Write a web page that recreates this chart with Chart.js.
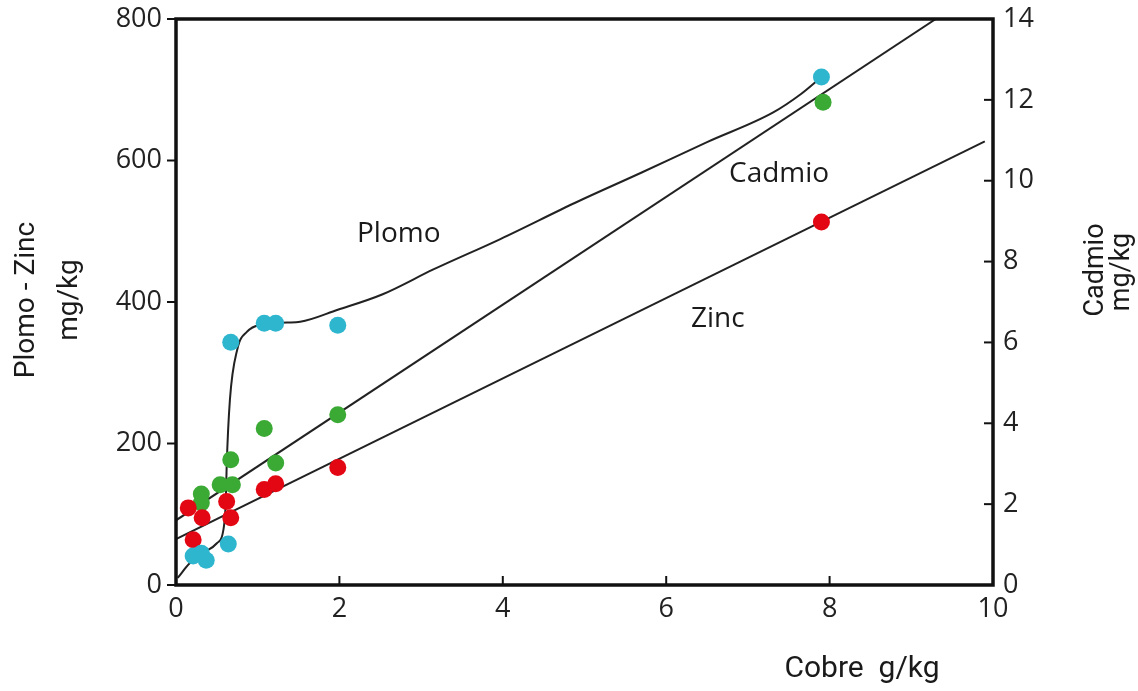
<!DOCTYPE html>
<html>
<head>
<meta charset="utf-8">
<script src="https://cdn.jsdelivr.net/npm/chart.js@4"></script>
<style>
  html, body { margin: 0; padding: 0; background: #fff; }
  #wrap { width: 1138px; height: 691px; }
</style>
</head>
<body>
<div id="wrap"><canvas id="myChart"></canvas></div>
<script>
  // measured points (Cobre g/kg on x)
  const plomoX = [0.21, 0.31, 0.37, 0.64, 0.67, 1.08, 1.22, 1.98, 7.9];
  const plomoY = [41, 45, 35, 58, 343, 370, 370, 367, 718];
  const zincX = [0.15, 0.21, 0.32, 0.62, 0.67, 1.08, 1.22, 1.98, 7.9];
  const zincY = [109, 64, 95, 118, 95, 135, 143, 166, 513];
  const cadmioX = [0.31, 0.31, 0.54, 0.69, 0.67, 1.08, 1.22, 1.98, 7.92];
  const cadmioY = [2.25, 2.03, 2.48, 2.48, 3.10, 3.87, 3.02, 4.21, 11.94];

  // hand drawn trend curves
  const plomoCurveX = [0.02, 0.17, 0.33, 0.5, 0.58, 0.61, 0.62, 0.66, 0.75, 0.87, 1.03, 1.36, 1.52, 1.98, 2.53, 3.15, 3.97, 4.9, 5.7, 6.5, 7.31, 7.65, 7.88];
  const plomoCurveY = [10, 31, 45, 59, 78, 120, 167, 262, 333, 358, 368, 371, 372, 389, 411, 446, 489, 541, 583, 626, 668, 694, 716];
  const zincLineX = [0, 9.9];
  const zincLineY = [65, 627];
  const cadmioLineX = [0, 9.3];
  const cadmioLineY = [1.6, 14];

  const xTicks = [0, 2, 4, 6, 8, 10];
  const leftTicks = [0, 200, 400, 600, 800];
  const rightTicks = [0, 2, 4, 6, 8, 10, 12, 14];

  const pts = (xs, ys) => xs.map((x, i) => ({x: x, y: ys[i]}));

  const cyan = 'rgb(46,182,207)';
  const green = 'rgb(58,170,53)';
  const red = 'rgb(227,6,19)';

  const curve = {showLine: true, borderColor: '#222', borderWidth: 2, pointRadius: 0, fill: false, order: 2};
  const dots = {pointRadius: 8.5, borderWidth: 0, order: 1};

  const annotate = {
    id: 'annotate',
    afterDraw(chart) {
      const c = chart.ctx;
      const a = chart.chartArea;
      const sx = chart.scales.x, sy = chart.scales.y, s2 = chart.scales.y2;
      c.save();
      // frame
      c.strokeStyle = '#111';
      c.lineWidth = 3.5;
      c.strokeRect(a.left, a.top, a.right - a.left, a.bottom - a.top);
      c.lineWidth = 2;
      // left ticks outward
      leftTicks.forEach(v => {
        const p = sy.getPixelForValue(v);
        c.beginPath(); c.moveTo(a.left - 9, p); c.lineTo(a.left, p); c.stroke();
      });
      // right ticks inward
      rightTicks.forEach(v => {
        const p = s2.getPixelForValue(v);
        c.beginPath(); c.moveTo(a.right - 9, p); c.lineTo(a.right, p); c.stroke();
      });
      // bottom ticks inward
      xTicks.forEach(v => {
        const p = sx.getPixelForValue(v);
        c.beginPath(); c.moveTo(p, a.bottom); c.lineTo(p, a.bottom - 9); c.stroke();
      });

      c.fillStyle = '#1a1a1a';
      c.textBaseline = 'middle';
      c.textAlign = 'left';
      c.font = '28px "Open Sans", sans-serif';
      c.fillText('Plomo', 357, 234);
      c.fillText('Cadmio', 729, 174);
      c.fillText('Zinc', 691, 319);

      c.font = '30px "Roboto", sans-serif';
      c.textAlign = 'center';
      c.fillText('Cobre  g/kg', 862, 669);

      const vtext = (t, x, y) => {
        c.save();
        c.translate(x, y);
        c.rotate(-Math.PI / 2);
        c.fillText(t, 0, 0);
        c.restore();
      };
      c.font = '28px "Roboto", sans-serif';
      vtext('Plomo - Zinc', 27, 300);
      vtext('mg/kg', 70, 300);
      c.font = '27px "Roboto", sans-serif';
      vtext('Cadmio', 1096, 270);
      vtext('mg/kg', 1122, 272);
      c.restore();
    }
  };

  const tickFont = {family: '"Open Sans", sans-serif', size: 27};
  // keep the plot box where the original has it
  const noPad = s => { s.paddingTop = 0; s.paddingBottom = 0; s.paddingLeft = 0; s.paddingRight = 0; };

  new Chart(document.getElementById('myChart'), {
    type: 'scatter',
    data: {
      datasets: [
        Object.assign({label: 'Plomo curva', data: pts(plomoCurveX, plomoCurveY), yAxisID: 'y', cubicInterpolationMode: 'monotone'}, curve),
        Object.assign({label: 'Zinc recta', data: pts(zincLineX, zincLineY), yAxisID: 'y'}, curve),
        Object.assign({label: 'Cadmio recta', data: pts(cadmioLineX, cadmioLineY), yAxisID: 'y2'}, curve),
        Object.assign({label: 'Plomo', data: pts(plomoX, plomoY), yAxisID: 'y', backgroundColor: cyan}, dots),
        Object.assign({label: 'Zinc', data: pts(zincX, zincY), yAxisID: 'y', backgroundColor: red}, dots),
        Object.assign({label: 'Cadmio', data: pts(cadmioX, cadmioY), yAxisID: 'y2', backgroundColor: green}, dots)
      ]
    },
    options: {
      responsive: true,
      maintainAspectRatio: false,
      animation: false,
      layout: {padding: {top: 19, left: 0, right: 0, bottom: 0}},
      plugins: {legend: {display: false}, tooltip: {enabled: false}},
      scales: {
        x: {
          type: 'linear', min: 0, max: 10,
          afterFit: s => { s.height = 106; noPad(s); },
          afterBuildTicks: s => { s.ticks = xTicks.map(v => ({value: v})); },
          grid: {display: false, drawTicks: false},
          border: {display: false},
          ticks: {color: '#222', font: tickFont, padding: 8, maxRotation: 0}
        },
        y: {
          type: 'linear', position: 'left', min: 0, max: 800,
          afterFit: s => { s.width = 176; noPad(s); },
          afterBuildTicks: s => { s.ticks = leftTicks.map(v => ({value: v})); },
          grid: {display: false, drawTicks: false},
          border: {display: false},
          ticks: {color: '#222', font: tickFont, padding: 14}
        },
        y2: {
          type: 'linear', position: 'right', min: 0, max: 14,
          afterFit: s => { s.width = 145; noPad(s); },
          afterBuildTicks: s => { s.ticks = rightTicks.map(v => ({value: v})); },
          grid: {display: false, drawTicks: false},
          border: {display: false},
          ticks: {color: '#222', font: tickFont, padding: 10}
        }
      }
    },
    plugins: [annotate]
  });
</script>
</body>
</html>
